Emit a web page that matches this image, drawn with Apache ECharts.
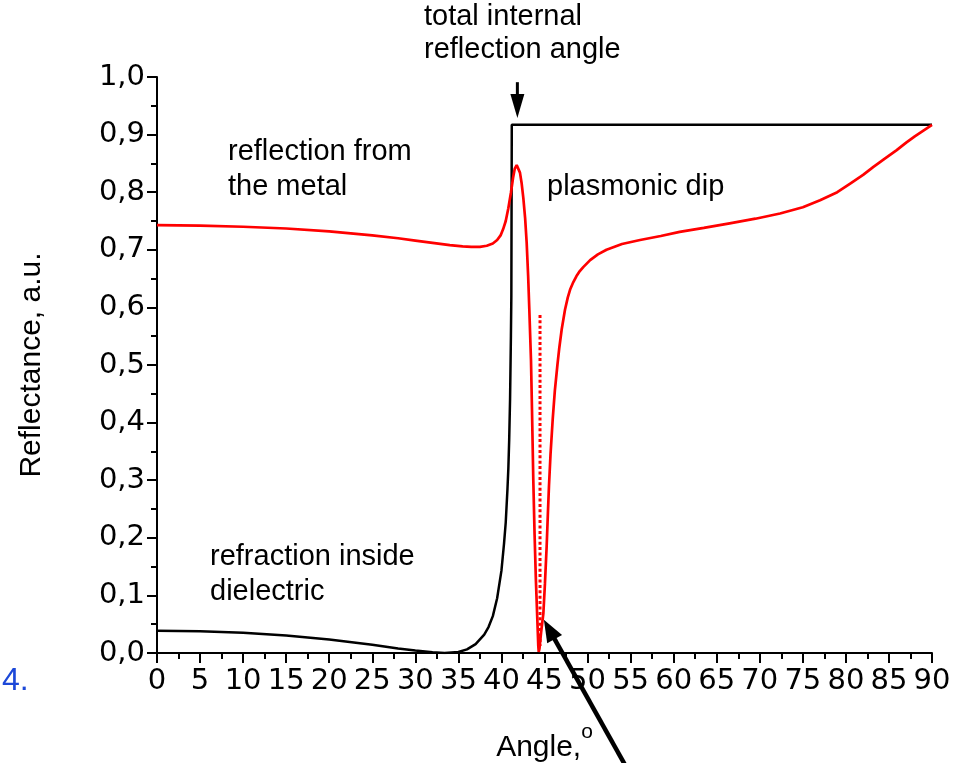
<!DOCTYPE html>
<html><head><meta charset="utf-8">
<script src="https://cdn.jsdelivr.net/npm/echarts@6/dist/echarts.min.js"></script>
<style>html,body{margin:0;padding:0;background:#fff}#c{width:961px;height:763px}</style>
</head><body><div id="c"></div>
<script>
// ---- data ----
const refractionAngle = [0, 5, 10, 15, 20, 25, 28, 30, 32, 33.4, 35, 36, 37, 38, 38.5, 39, 39.5, 40, 40.3, 40.5, 40.7, 40.8, 40.9, 41.0, 41.1, 41.15, 41.2, 90];
const refractionR     = [0.0388, 0.0379, 0.0352, 0.0304, 0.0234, 0.0143, 0.008, 0.0042, 0.0012, 0.0, 0.0017, 0.0063, 0.0155, 0.032, 0.045, 0.064, 0.095, 0.143, 0.19, 0.227, 0.285, 0.32, 0.37, 0.44, 0.55, 0.62, 0.917, 0.917];

const metalAngle = [0, 5, 10, 15, 20, 25, 28, 30, 32, 34, 35.5, 36.5, 37.5, 38.3, 39.0, 39.5, 39.9, 40.2, 40.5, 40.8, 41.1, 41.35, 41.55, 41.77, 41.95, 42.15, 42.35, 42.54, 42.75, 42.93, 43.1, 43.24, 43.43, 43.55, 43.7, 43.85, 44.0, 44.15, 44.28, 44.33, 44.42, 44.6, 44.87, 45.05, 45.25, 45.4, 45.52, 45.7, 45.95, 46.2, 46.5, 46.72, 47.0, 47.38, 47.7, 48.0, 48.35, 48.7, 49.1, 49.5, 50.3, 51.2, 52.2, 54, 56.1, 58.5, 60.7, 63.5, 66.5, 69.5, 72.35, 75, 77, 79, 80.5, 82, 83.2, 84.6, 85.9, 87, 88, 89, 90];
const metalR     = [0.743, 0.742, 0.740, 0.737, 0.732, 0.725, 0.720, 0.716, 0.712, 0.708, 0.706, 0.705, 0.705, 0.707, 0.711, 0.717, 0.725, 0.736, 0.750, 0.772, 0.799, 0.825, 0.841, 0.847, 0.845, 0.834, 0.815, 0.790, 0.755, 0.712, 0.655, 0.595, 0.509, 0.42, 0.30, 0.205, 0.127, 0.065, 0.012, 0.002, 0.008, 0.035, 0.069, 0.12, 0.185, 0.245, 0.290, 0.345, 0.405, 0.455, 0.500, 0.530, 0.562, 0.596, 0.617, 0.632, 0.644, 0.654, 0.663, 0.670, 0.682, 0.692, 0.700, 0.710, 0.717, 0.724, 0.731, 0.738, 0.746, 0.754, 0.763, 0.774, 0.786, 0.800, 0.815, 0.830, 0.844, 0.859, 0.873, 0.886, 0.897, 0.907, 0.917];

const dipMarkAngle = [44.48, 44.48];
const dipMarkR     = [0.587, 0.012];

// annotation arrows: tail -> tip, in data coordinates
const tirArrowTail = [41.85, 0.991];
const tirArrowTip  = [41.85, 0.9288];
const dipArrowTail = [55.5, -0.225];
const dipArrowTip  = [44.93, 0.0576];

const xMin = 0, xMax = 90, xStep = 5;
const yMin = 0, yMax = 1, yStep = 0.1;

const FONT = '"Liberation Sans", Arial, sans-serif';
const TICKFONT = '"DejaVu Sans", "Liberation Sans", sans-serif';

function zip(a, b) { return a.map((v, i) => [v, b[i]]); }

const chart = echarts.init(document.getElementById('c'), null, { renderer: 'canvas' });
const axisCommon = {
  axisLine: { show: true, onZero: false, lineStyle: { color: '#000', width: 2 } },
  axisTick: { show: true, inside: false, length: 10, lineStyle: { color: '#000', width: 2 } },
  minorTick: { show: true, splitNumber: 2, length: 6, lineStyle: { color: '#000', width: 2 } },
  splitLine: { show: false },
  minorSplitLine: { show: false }
};
chart.setOption({
  animation: false,
  backgroundColor: '#fff',
  grid: { left: 157, right: 29, top: 77, bottom: 110, containLabel: false, outerBoundsMode: 'none' },
  xAxis: Object.assign({
    type: 'value', min: xMin, max: xMax, interval: xStep,
    name: 'Angle,{s|o}', nameLocation: 'middle', nameGap: 69,
    nameTextStyle: { fontFamily: FONT, fontSize: 30, color: '#000',
      rich: { s: { fontFamily: FONT, fontSize: 21, color: '#000', padding: [0, 0, 30, 0] } } },
    axisLabel: { color: '#000', fontFamily: TICKFONT, fontSize: 29, margin: 14 }
  }, axisCommon),
  yAxis: Object.assign({
    type: 'value', min: yMin, max: yMax, interval: yStep,
    name: 'Reflectance, a.u.', nameLocation: 'middle', nameGap: 110,
    nameTextStyle: { fontFamily: FONT, fontSize: 30, color: '#000' },
    axisLabel: { color: '#000', fontFamily: TICKFONT, fontSize: 29, margin: 12,
      formatter: v => v.toFixed(1).replace('.', ',') }
  }, axisCommon),
  series: [
    { type: 'line', data: zip(refractionAngle, refractionR), symbol: 'none', smooth: false,
      lineStyle: { color: '#000', width: 2.5 }, z: 2 },
    { type: 'line', data: zip(metalAngle, metalR), symbol: 'none', smooth: false,
      lineStyle: { color: '#ff0000', width: 2.7 }, z: 3 },
    { type: 'line', data: zip(dipMarkAngle, dipMarkR), symbol: 'none', clip: false,
      lineStyle: { color: '#ff0000', width: 3, type: [3, 2.4] }, z: 4 }
  ],
  graphic: [
    { type: 'text', left: 424, top: 0.5, style: { text: 'total internal\nreflection angle', fontFamily: FONT, fontSize: 29, lineHeight: 33, fill: '#000' } },
    { type: 'text', left: 228, top: 134.5, style: { text: 'reflection from\nthe metal', fontFamily: FONT, fontSize: 29, lineHeight: 35, fill: '#000' } },
    { type: 'text', left: 547, top: 169, style: { text: 'plasmonic dip', fontFamily: FONT, fontSize: 29, lineHeight: 35, fill: '#000' } },
    { type: 'text', left: 210, top: 539.5, style: { text: 'refraction inside\ndielectric', fontFamily: FONT, fontSize: 29, lineHeight: 35, fill: '#000' } },
    { type: 'text', left: 2, top: 663, style: { text: '4.', fontFamily: FONT, fontSize: 32, lineHeight: 36, fill: '#1c48d8' } }
  ]
});

// arrows positioned through the chart's own scales
function arrowGraphic(tail, tip, width, headLen, headW) {
  const a = chart.convertToPixel({ gridIndex: 0 }, tail);
  const b = chart.convertToPixel({ gridIndex: 0 }, tip);
  const dx = b[0] - a[0], dy = b[1] - a[1];
  const L = Math.hypot(dx, dy), ux = dx / L, uy = dy / L;
  const bx = b[0] - ux * headLen, by = b[1] - uy * headLen;
  const px = -uy, py = ux;
  return [
    { type: 'line', z: 10, shape: { x1: a[0], y1: a[1], x2: bx + ux * 2, y2: by + uy * 2 },
      style: { stroke: '#000', lineWidth: width } },
    { type: 'polygon', z: 10, shape: { points: [[b[0], b[1]], [bx + px * headW / 2, by + py * headW / 2], [bx - px * headW / 2, by - py * headW / 2]] },
      style: { fill: '#000' } }
  ];
}
const arrows = [].concat(
  arrowGraphic(tirArrowTail, tirArrowTip, 3, 24, 14),
  arrowGraphic(dipArrowTail, dipArrowTip, 4.5, 22, 17)
);
chart.setOption({ graphic: arrows.map((g, i) => Object.assign({ id: 'arrow' + i }, g)) });
</script></body></html>
